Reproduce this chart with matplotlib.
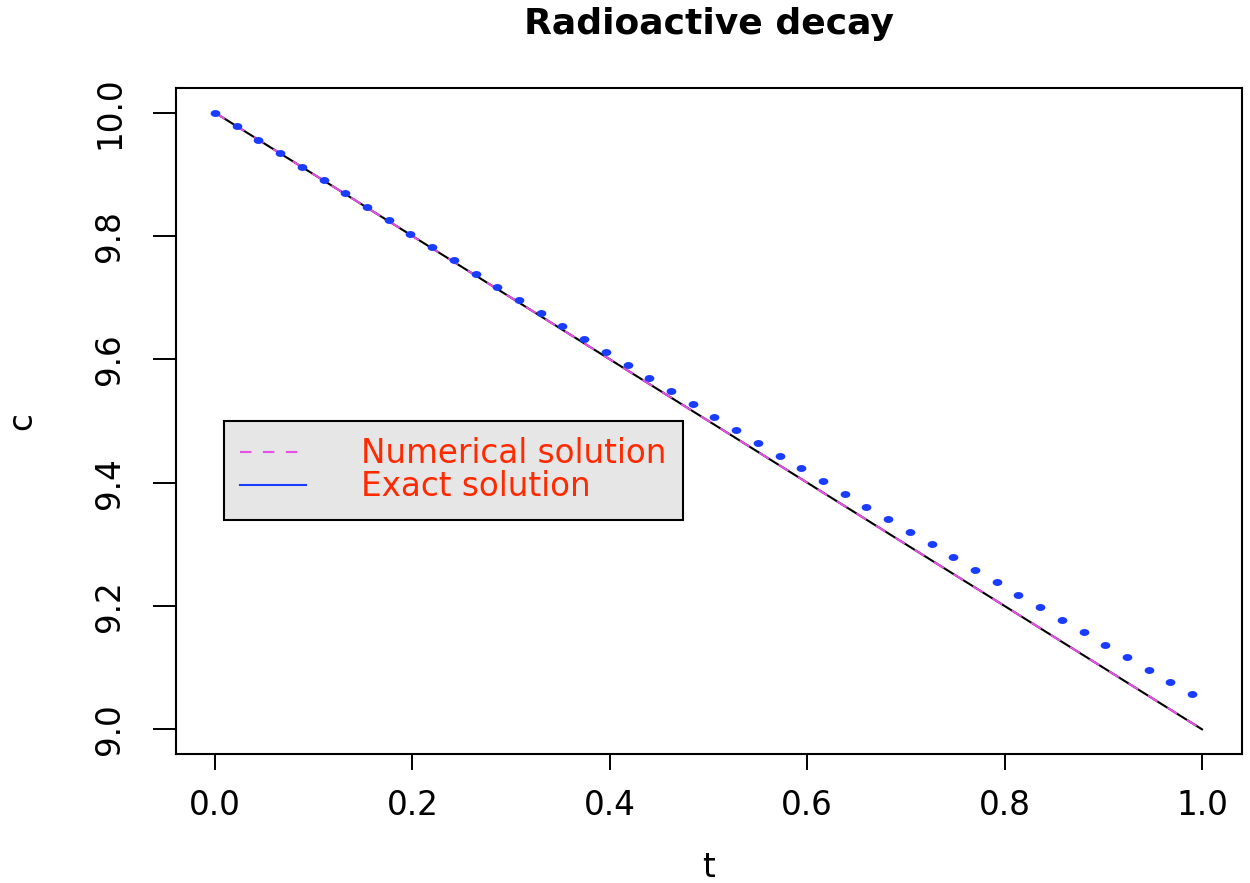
import numpy as np
import matplotlib
matplotlib.use("Agg")
import matplotlib.pyplot as plt
from matplotlib.lines import Line2D
from matplotlib.path import Path

# blue points
t_points = [0.000, 0.022, 0.044, 0.066, 0.088, 0.110, 0.132, 0.154, 0.176, 0.198,
            0.220, 0.242, 0.264, 0.286, 0.308, 0.330, 0.352, 0.374, 0.396, 0.418,
            0.440, 0.462, 0.484, 0.506, 0.528, 0.550, 0.572, 0.594, 0.616, 0.638,
            0.660, 0.682, 0.704, 0.726, 0.748, 0.770, 0.792, 0.814, 0.836, 0.858,
            0.880, 0.902, 0.924, 0.946, 0.968, 0.990]
c_points = [10.000, 9.978, 9.956, 9.934, 9.912, 9.891, 9.869, 9.847, 9.826, 9.804,
            9.782, 9.761, 9.739, 9.718, 9.697, 9.675, 9.654, 9.633, 9.612, 9.591,
            9.570, 9.549, 9.528, 9.507, 9.486, 9.465, 9.444, 9.423, 9.403, 9.382,
            9.361, 9.341, 9.320, 9.300, 9.279, 9.259, 9.239, 9.218, 9.198, 9.178,
            9.158, 9.137, 9.117, 9.097, 9.077, 9.057]

# straight lines (black solid + magenta dashed on top)
t_line = [0.0, 1.0]
c_line = [10.0, 9.0]

x_ticks = [0.0, 0.2, 0.4, 0.6, 0.8, 1.0]
y_ticks = [9.0, 9.2, 9.4, 9.6, 9.8, 10.0]
labels = ["Numerical solution", "Exact solution"]

plt.rcParams['font.family'] = ['DejaVu Sans']

BLUE = '#1a3cff'
MAGENTA = '#e650e6'
RED = '#ff2a00'
FS = 23.5

# slightly wide dot, like the stretched original
theta = np.linspace(0, 2 * np.pi, 40)
dot = Path(np.column_stack([1.4 * np.cos(theta), np.sin(theta)]))

fig = plt.figure(figsize=(12.5, 8.83), dpi=100)
ax = fig.add_axes([175.5 / 1250, 1 - 754 / 883, 1066 / 1250, 666 / 883])

ax.plot(t_line, c_line, color='black', lw=1.5, zorder=2)
num_line, = ax.plot(t_line, c_line, color=MAGENTA, lw=1.5, linestyle=(0, (5.5, 5.5)), zorder=3)
ax.plot(t_points, c_points, linestyle='none', marker=dot, markersize=7,
        color=BLUE, markeredgewidth=0, zorder=4)

ax.set_xlim(-0.04, 1.04)
ax.set_ylim(8.96, 10.04)
ax.set_xticks(x_ticks)
ax.set_yticks(y_ticks)
ax.set_xticklabels(['%.1f' % v for v in x_ticks], fontsize=FS)
ax.set_yticklabels(['%.1f' % v for v in y_ticks], fontsize=FS, rotation=90, va='center')
ax.tick_params(axis='x', length=11.5, width=1.4, pad=13.5)
ax.tick_params(axis='y', length=16.5, width=1.4, pad=19)
for s in ax.spines.values():
    s.set_linewidth(1.5)

ax.set_title('Radioactive decay', fontsize=26, fontweight='bold', pad=39)
ax.set_xlabel('t', fontsize=FS, va='top')
ax.xaxis.set_label_coords(0.5, -0.146)
ax.set_ylabel('c', fontsize=FS, va='center')
ax.yaxis.set_label_coords(-0.144, 0.5)

exact_proxy = Line2D([], [], color=BLUE, lw=1.5)
leg = ax.legend([num_line, exact_proxy], labels, loc='upper left',
                bbox_to_anchor=(0.0455, 0.5), borderaxespad=0, fontsize=FS,
                fancybox=False, framealpha=1, facecolor='#e6e6e6', edgecolor='black',
                borderpad=0.5, handlelength=2.0, handletextpad=1.7, labelspacing=0.0)
leg.get_frame().set_linewidth(1.5)
for txt in leg.get_texts():
    txt.set_color(RED)

fig.savefig('out.png', dpi=100, facecolor='white')
